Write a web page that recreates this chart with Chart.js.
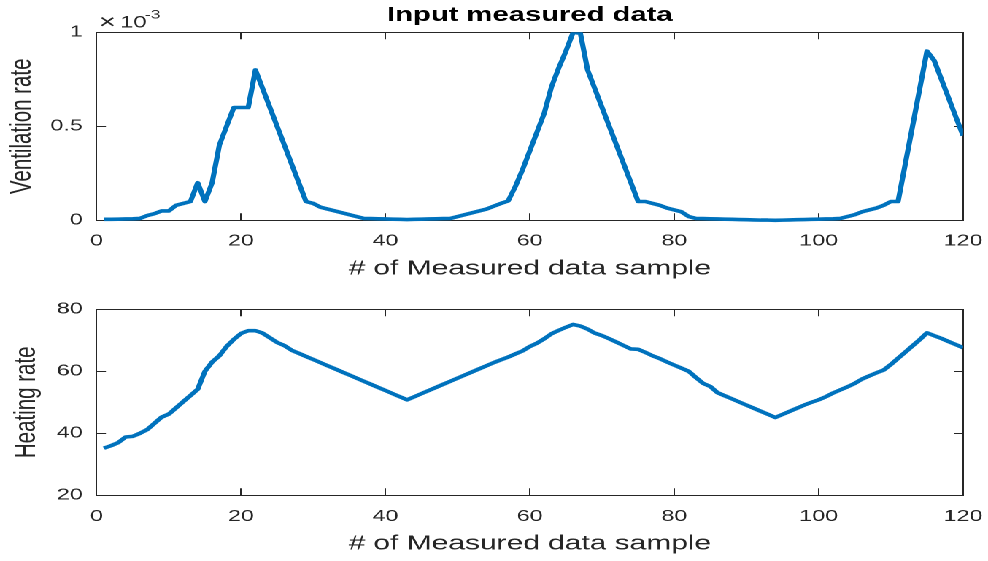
<!DOCTYPE html>
<html>
<head>
<meta charset="utf-8">
<title>Input measured data</title>
<script src="https://cdn.jsdelivr.net/npm/chart.js@4.4.1/dist/chart.umd.min.js"></script>
<style>
  html, body { margin: 0; padding: 0; background: #fff; overflow: hidden; }
  /* the figure is laid out on a 677px-wide sheet and widened to the 988px window */
  #figure { position: absolute; left: 0; top: 0; width: 677px; height: 561px;
            transform: scaleX(1.4594); transform-origin: 0 0; }
  #figure canvas { position: absolute; left: 0; }
</style>
</head>
<body>
<div id="figure">
  <canvas id="upper" width="677" height="285" style="top:0;width:677px;height:285px"></canvas>
  <canvas id="lower" width="677" height="276" style="top:285px;width:677px;height:276px"></canvas>
</div>
<script>
// ---- data -------------------------------------------------------------
// sample numbers 1..120
const samples = Array.from({ length: 120 }, (_, i) => i + 1);

// ventilation rate, in units of 1e-3
const ventilationRate = [
  0.005, 0.005, 0.006, 0.007, 0.008, 0.010, 0.025, 0.035, 0.050, 0.050,
  0.080, 0.090, 0.100, 0.200, 0.100, 0.200, 0.400, 0.500, 0.600, 0.600,
  0.600, 0.800, 0.700, 0.600, 0.500, 0.400, 0.300, 0.200, 0.100, 0.090,
  0.070, 0.060, 0.050, 0.040, 0.030, 0.020, 0.010, 0.009, 0.008, 0.007,
  0.006, 0.005, 0.004, 0.005, 0.006, 0.007, 0.008, 0.009, 0.010, 0.020,
  0.030, 0.040, 0.050, 0.060, 0.075, 0.090, 0.103, 0.180, 0.270, 0.370,
  0.470, 0.570, 0.710, 0.810, 0.900, 1.000, 0.995, 0.800, 0.700, 0.600,
  0.500, 0.400, 0.300, 0.200, 0.100, 0.100, 0.090, 0.080, 0.065, 0.055,
  0.045, 0.020, 0.010, 0.009, 0.008, 0.007, 0.006, 0.005, 0.004, 0.003,
  0.002, 0.001, 0.001, 0.000, 0.001, 0.002, 0.003, 0.004, 0.005, 0.006,
  0.007, 0.008, 0.010, 0.020, 0.030, 0.045, 0.055, 0.065, 0.080, 0.100,
  0.100, 0.300, 0.500, 0.700, 0.900, 0.850, 0.750, 0.650, 0.550, 0.450
];

// heating rate
const heatingRate = [
  35.2, 36.0, 37.0, 38.8, 39.0, 40.0, 41.2, 43.2, 45.2, 46.2,
  48.2, 50.2, 52.2, 54.2, 60.0, 63.0, 65.0, 68.0, 70.3, 72.2,
  73.1, 73.1, 72.3, 70.8, 69.3, 68.3, 66.8, 65.8, 64.8, 63.8,
  62.8, 61.8, 60.8, 59.8, 58.8, 57.8, 56.8, 55.8, 54.8, 53.8,
  52.8, 51.8, 50.8, 51.8, 52.8, 53.8, 54.8, 55.8, 56.8, 57.8,
  58.8, 59.8, 60.8, 61.8, 62.8, 63.7, 64.6, 65.6, 66.6, 68.0,
  69.1, 70.5, 72.1, 73.2, 74.2, 75.1, 74.6, 73.6, 72.3, 71.5,
  70.5, 69.4, 68.3, 67.2, 67.1, 66.1, 65.0, 64.1, 63.0, 62.0,
  61.0, 60.0, 58.0, 56.1, 55.1, 53.1, 52.1, 51.1, 50.1, 49.1,
  48.1, 47.1, 46.1, 45.1, 46.1, 47.1, 48.1, 49.1, 50.0, 50.8,
  51.8, 53.0, 54.0, 55.0, 56.1, 57.5, 58.5, 59.5, 60.4, 62.2,
  64.2, 66.2, 68.2, 70.2, 72.4, 71.5, 70.6, 69.6, 68.6, 67.6
];

// axis ranges and tick steps
const xRange = [0, 120], xStep = 20;
const ventilationRange = [0, 1], ventilationStep = 0.5;
const heatingRange = [20, 80], heatingStep = 20;

// ---- styling ----------------------------------------------------------
const FONT = "'Liberation Sans', Arial, Helvetica, sans-serif";
const INK = '#262626';
const LINE = '#0072BD';

// inward tick marks, drawn by the grid with a negative tick length
function boxGrid(len) {
  return { drawOnChartArea: false, drawTicks: true, tickLength: -len, color: INK, lineWidth: 1 };
}
const boxBorder = { display: true, color: INK, width: 1 };

function buildScales(cfg) {
  return {
    x: {
      type: 'linear', position: 'bottom', min: xRange[0], max: xRange[1],
      ticks: { stepSize: xStep, autoSkip: false, maxRotation: 0, color: INK,
               font: { family: FONT, size: 16 }, padding: cfg.xTickPad,
               callback: v => String(v) },
      grid: boxGrid(7), border: boxBorder,
      title: { display: true, text: '# of Measured data sample', color: INK,
               font: { family: FONT, size: 20.5 }, padding: { top: 0, bottom: cfg.xTitlePad } },
      afterFit(s) { s.height = cfg.xHeight; s.paddingLeft = 0; s.paddingRight = 0; }
    },
    xTop: {
      type: 'linear', position: 'top', min: xRange[0], max: xRange[1],
      ticks: { display: false, stepSize: xStep, autoSkip: false },
      grid: boxGrid(7), border: boxBorder,
      afterFit(s) { s.height = 0; s.paddingLeft = 0; s.paddingRight = 0; }
    },
    y: {
      type: 'linear', position: 'left', min: cfg.range[0], max: cfg.range[1],
      ticks: { stepSize: cfg.step, autoSkip: false, color: INK,
               font: { family: FONT, size: 16 }, padding: 15.9,
               callback: v => String(v) },
      grid: boxGrid(6.4), border: boxBorder,
      title: { display: true, text: cfg.yTitle, color: INK,
               font: { family: FONT, size: 20.5 }, padding: { top: cfg.yTitlePad, bottom: 0 } },
      afterFit(s) { s.width = 66.2; s.paddingTop = 0; s.paddingBottom = 0; }
    },
    yRight: {
      type: 'linear', position: 'right', min: cfg.range[0], max: cfg.range[1],
      ticks: { display: false, stepSize: cfg.step, autoSkip: false },
      grid: boxGrid(6.4), border: boxBorder,
      afterFit(s) { s.width = 0; s.paddingTop = 0; s.paddingBottom = 0; }
    }
  };
}

function series(values) {
  return {
    data: samples.map((s, i) => ({ x: s, y: values[i] })),
    xAxisID: 'x', yAxisID: 'y',
    borderColor: LINE, borderWidth: 3.6, pointRadius: 0, tension: 0,
    fill: false, borderJoinStyle: 'round',
    clip: { left: 0, top: 0, right: 0, bottom: 4 }
  };
}

// "x10^-3" multiplier above the top-left corner of the upper axes
const exponentLabel = {
  id: 'exponentLabel',
  afterDraw(chart) {
    const { ctx, chartArea: { left, top } } = chart;
    ctx.save();
    ctx.fillStyle = INK;
    ctx.textAlign = 'left';
    ctx.textBaseline = 'alphabetic';
    ctx.font = `20px ${FONT}`;
    ctx.fillText('\u00D7', left + 1.6, top - 4);
    ctx.font = `16.5px ${FONT}`;
    ctx.fillText('10', left + 16, top - 5);
    ctx.font = `12px ${FONT}`;
    ctx.fillText('-3', left + 33.1, top - 14);
    ctx.restore();
  }
};

const common = { responsive: false, animation: false, devicePixelRatio: 2 };

new Chart(document.getElementById('upper'), {
  type: 'line',
  data: { datasets: [series(ventilationRate)] },
  options: Object.assign({}, common, {
    layout: { padding: { left: 0, right: 17.1, top: 0, bottom: 0 } },
    plugins: {
      legend: { display: false }, tooltip: { enabled: false },
      title: { display: true, text: 'Input measured data', color: '#000', fullSize: false,
               font: { family: FONT, size: 20, weight: 'bold' }, padding: { top: 3.5, bottom: 4.8 } }
    },
    scales: buildScales({ range: ventilationRange, step: ventilationStep, yTitle: 'Ventilation rate',
                          yTitlePad: 2.9, xTickPad: 18.1, xTitlePad: 3.9, xHeight: 64.7 })
  }),
  plugins: [exponentLabel]
});

new Chart(document.getElementById('lower'), {
  type: 'line',
  data: { datasets: [series(heatingRate)] },
  options: Object.assign({}, common, {
    layout: { padding: { left: 0, right: 17.1, top: 24.3, bottom: 0 } },
    plugins: { legend: { display: false }, tooltip: { enabled: false } },
    scales: buildScales({ range: heatingRange, step: heatingStep, yTitle: 'Heating rate',
                          yTitlePad: 5.9, xTickPad: 18.6, xTitlePad: 4.7, xHeight: 65.7 })
  })
});
</script>
</body>
</html>
